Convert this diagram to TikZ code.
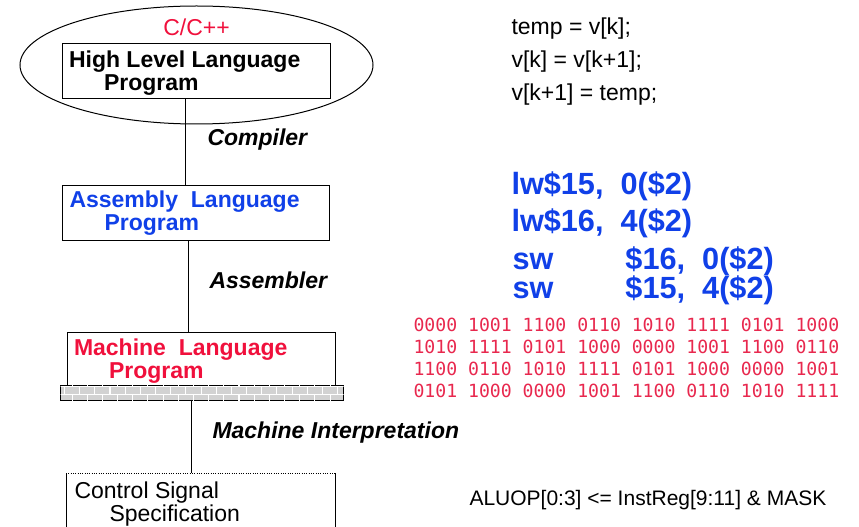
\documentclass[tikz,border=0pt]{standalone}
\usepackage{fontspec}
\setmainfont{Liberation Sans}
\newfontfamily\bitsfont{DejaVu Sans Mono}
\definecolor{langred}{HTML}{F0103C}
\definecolor{asmblue}{HTML}{1040E8}
\definecolor{bitred}{HTML}{E8284E}
\usetikzlibrary{positioning,shapes.geometric,patterns}
\newcommand{\lvlfont}{\fontsize{17.25}{17.25}\selectfont}
\newcommand{\asmfont}{\fontsize{23}{23}\selectfont\bfseries}
\newcommand{\bitsize}{\fontsize{13.6}{13.6}\selectfont}

\begin{document}
\begin{tikzpicture}[x=0.75pt,y=-0.75pt,line width=0.75pt,
  level/.style={draw,rectangle,anchor=north west,inner sep=0pt,minimum width=201pt},
  lvltext/.style={anchor=north west,inner sep=0pt,align=left,font=\lvlfont\bfseries},
  stagelabel/.style={anchor=base west,inner sep=0pt,font=\lvlfont\bfseries\itshape},
  code/.style={anchor=base west,inner sep=0pt,font=\lvlfont},
  asmline/.style={anchor=base west,inner sep=0pt,font=\asmfont,text=asmblue},
  bits/.style={anchor=base west,inner sep=0pt,font=\bitsfont\bitsize,text=bitred}]
  \useasboundingbox (0,0) rectangle (859,527);
  \clip (0,0) rectangle (859,527);
  % Source level
  \node[draw,ellipse,minimum width=264.75pt,minimum height=88.5pt,inner sep=0pt] (oval) at (196.5,65) {};
  \node[anchor=base,inner sep=0pt,font=\lvlfont,text=langred] (lang) at (196.5,36) {C/C++};
  \node[level,minimum height=41.25pt] (hll) at (62,43) {};
  \node[lvltext] (hlltext) at (68.5,50.5) {High Level Language\\\hspace*{26.25pt}Program};
  % Assembly level
  \node[level,minimum width=200.25pt,minimum height=41.25pt] (asm) at (62,185) {};
  \node[lvltext,text=asmblue] (asmtext) at (69,190.5) {Assembly~~Language\\\hspace*{26.25pt}Program};
  % Machine level
  \node[level,minimum height=39.75pt] (mach) at (67,332) {};
  \node[lvltext,text=langred] (machtext) at (73.5,338.5) {Machine~~Language\\\hspace*{26.25pt}Program};
  \node[level,line width=1pt,minimum width=212.25pt,minimum height=11.25pt,fill=gray!35,
    postaction={pattern=bricks,pattern color=white}] (bar) at (60,385) {};
  % Control level
  \node[level,draw=none,minimum height=60pt] (ctrl) at (66,473) {};
  \draw[densely dotted] (ctrl.north west) -- (ctrl.north east);
  \draw (ctrl.north west) -- (ctrl.south west) (ctrl.north east) -- (ctrl.south east);
  \node[lvltext,font=\lvlfont] (ctrltext) at (74,481.5) {Control Signal\\\hspace*{26.25pt}Specification};
  % Connectors
  \draw ([xshift=-8.25pt]hll.south) -- ([xshift=-8.25pt]hll.south |- asm.north);
  \draw ([xshift=-5.625pt]asm.south) -- ([xshift=-5.625pt]asm.south |- mach.north);
  \draw ([xshift=-7.875pt]bar.south) -- ([xshift=-7.875pt]bar.south |- ctrl.north);
  % Stage labels
  \node[stagelabel] (compiler) at (207,146) {Compiler};
  \node[stagelabel] (assembler) at (209,288) {Assembler};
  \node[stagelabel] (interp) at (212,438) {Machine Interpretation};
  % Source code
  \node[code] (src1) at (511,35) {temp = v[k];};
  \node[code] (src2) at (511,68) {v[k] = v[k+1];};
  \node[code] (src3) at (511,101) {v[k+1] = temp;};
  % Assembly code
  \node[asmline] (lw1) at (511,195) {lw\$15,~~0(\$2)};
  \node[asmline] (lw2) at (511,231) {lw\$16,~~4(\$2)};
  \node[asmline] (sw1) at (512,269) {\makebox[84.75pt][l]{sw}\$16,~~0(\$2)};
  \node[asmline] (sw2) at (512,298) {\makebox[84.75pt][l]{sw}\$15,~~4(\$2)};
  % Machine code
  \node[bits] (bits1) at (413,331) {0000 1001 1100 0110 1010 1111 0101 1000};
  \node[bits] (bits2) at (413,353) {1010 1111 0101 1000 0000 1001 1100 0110};
  \node[bits] (bits3) at (413,375) {1100 0110 1010 1111 0101 1000 0000 1001};
  \node[bits] (bits4) at (413,397) {0101 1000 0000 1001 1100 0110 1010 1111};
  % Control signals
  \node[code,font=\fontsize{15.75}{15.75}\selectfont] (aluop) at (469,505) {ALUOP[0:3] <= InstReg[9:11] \& MASK};
\end{tikzpicture}
\end{document}
